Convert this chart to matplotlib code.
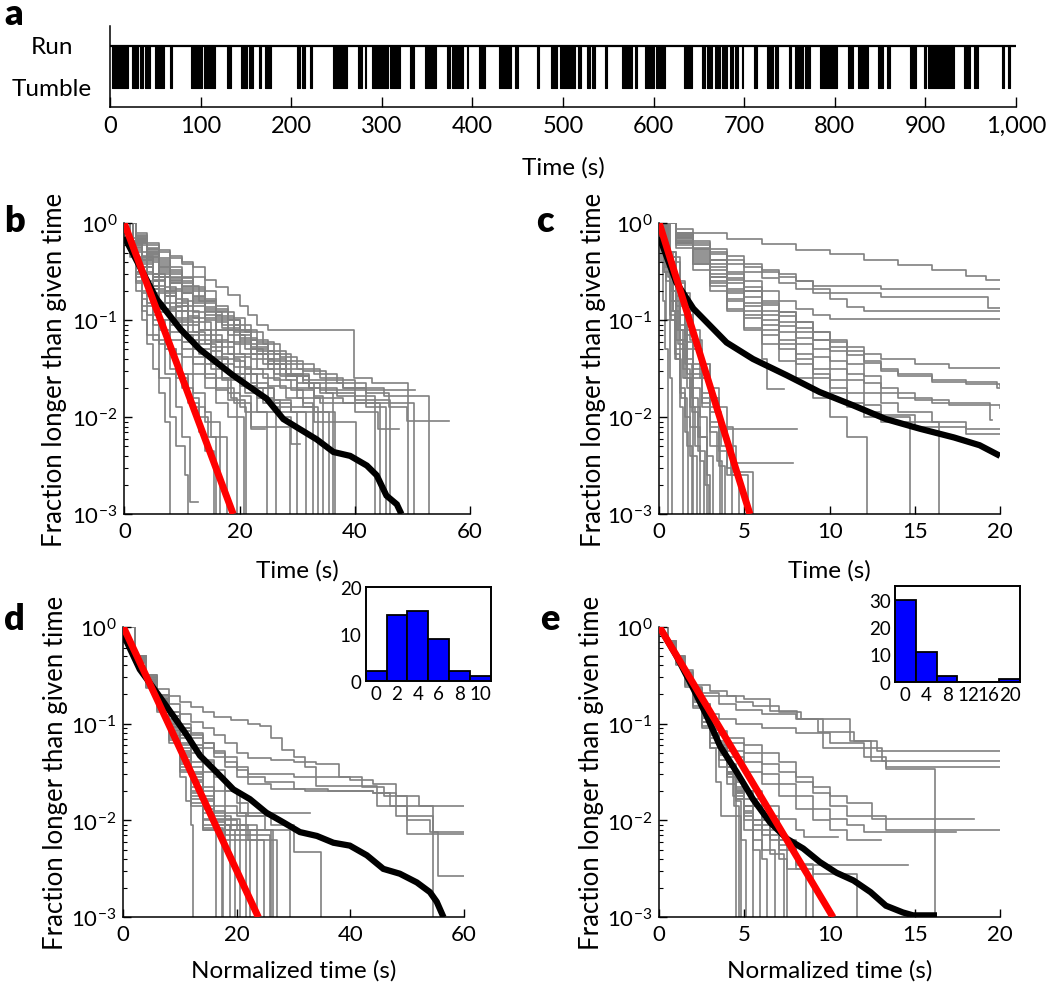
import matplotlib
matplotlib.use("Agg")
import matplotlib.pyplot as plt
import matplotlib.transforms as mtransforms
from matplotlib.ticker import LogLocator, NullFormatter
import numpy as np

plt.rcParams['font.family'] = ['Lato', 'DejaVu Sans']
plt.rcParams['mathtext.fontset'] = 'custom'
plt.rcParams['mathtext.rm'] = 'Lato'
plt.rcParams['mathtext.it'] = 'Lato:italic'
plt.rcParams['mathtext.bf'] = 'Lato:bold'

GRAY = '#808080'
RED = '#ff0000'
BLUE = '#0000ff'

# ---- panel a: run / tumble record (tumble bursts, start and end in s) ----
tumble_start = [2, 24, 33, 39, 50, 66, 89, 104, 129, 145, 153, 164, 171, 206, 212, 221,
                246, 274, 281, 289, 309, 331, 348, 372, 377, 394, 407, 429, 447, 471,
                487, 497, 517, 526, 532, 546, 565, 579, 590, 603, 633, 653, 659, 668,
                675, 684, 690, 697, 711, 725, 734, 749, 756, 762, 767, 784, 815, 826,
                848, 857, 883, 898, 903, 942, 953, 984, 991]
tumble_end = [20, 31, 36, 44, 60, 68, 101, 116, 134, 151, 158, 167, 178, 210, 215, 223,
              261, 278, 283, 307, 320, 335, 360, 375, 390, 395, 414, 443, 450, 473,
              493, 513, 520, 530, 535, 549, 576, 582, 600, 613, 642, 657, 664, 673,
              681, 688, 693, 699, 714, 732, 737, 752, 760, 765, 773, 802, 820, 837,
              853, 861, 890, 901, 931, 949, 958, 987, 993]

# ---- panel b: raw run-time survival (time s, log10 fraction) ----
b_black_t = [0, 5.6, 9.7, 13.1, 18.9, 24.7, 27.6, 33.4, 36.3, 39.2, 42.1, 43.8, 45.5, 47.3, 48.1]
b_black_L = [-0.14, -0.78, -1.09, -1.30, -1.57, -1.81, -2.02, -2.23, -2.36, -2.40, -2.50,
             -2.60, -2.81, -2.90, -3.0]
b_red_t = [0, 18.9]
b_red_f = [1.0, 1e-3]
b_gray = [
    [(0, 0), (2, -0.12), (4, -0.22), (6, -0.3), (8, -0.36), (10, -0.4), (12, -0.45), (14, -0.58),
     (16, -0.66), (18, -0.74), (20, -0.85), (21.5, -0.95), (23, -1.05), (25, -1.1), (39.8, -1.6),
     (43, -1.65), (49.2, -1.68), (49.2, -3.5)],
    [(0, 0), (2, -0.15), (4, -0.28), (6, -0.4), (8, -0.5), (10, -0.6), (12, -0.7), (14, -0.8),
     (16, -0.9), (18, -1.0), (20, -1.1), (23, -1.22), (26, -1.35), (29, -1.45), (33, -1.55),
     (37, -1.65), (42, -1.75), (46, -1.9), (49, -2.04), (56.3, -2.04)],
    [(0, 0), (2, -0.18), (4, -0.32), (6, -0.45), (8, -0.55), (10, -0.65), (13, -0.8), (16, -0.92),
     (19, -1.05), (22, -1.2), (25, -1.32), (28, -1.42), (31, -1.52), (35, -1.62), (40, -1.72),
     (45, -1.78), (52.8, -3.5)],
    [(0, 0), (2, -0.2), (4, -0.36), (6, -0.5), (8, -0.62), (10, -0.72), (12, -0.82), (14, -0.95),
     (17, -1.08), (20, -1.2), (23, -1.35), (27, -1.5), (31, -1.62), (35, -1.75), (40, -1.95),
     (44, -2.12), (47.6, -2.12)],
    [(0, 0), (2, -0.22), (4, -0.4), (6, -0.55), (8, -0.68), (10, -0.8), (12, -0.92), (14, -1.0),
     (16, -1.1), (19, -1.25), (22, -1.4), (26, -1.55), (30, -1.65), (34, -1.72), (40, -1.82),
     (46.1, -3.5)],
    [(0, 0), (1.5, -0.2), (3, -0.38), (5, -0.55), (7, -0.72), (9, -0.85), (11, -0.98), (13, -1.1),
     (15, -1.2), (18, -1.35), (21, -1.5), (24, -1.6), (27, -1.7), (30, -1.8), (34, -1.85),
     (44.4, -3.5)],
    [(0, 0), (1.5, -0.22), (3, -0.42), (5, -0.6), (7, -0.75), (9, -0.9), (11, -1.02), (13, -1.15),
     (15, -1.28), (17, -1.4), (20, -1.55), (23, -1.7), (26, -1.82), (29, -1.95), (33, -2.05),
     (40.3, -3.5)],
    [(0, 0), (1.5, -0.25), (3, -0.45), (5, -0.65), (7, -0.82), (9, -0.98), (11, -1.12), (13, -1.25),
     (15, -1.38), (18, -1.55), (21, -1.7), (24, -1.85), (27, -2.0), (29, -2.28), (30.5, -2.28)],
    [(0, 0), (1.5, -0.28), (3, -0.5), (5, -0.72), (7, -0.9), (9, -1.05), (11, -1.2), (13, -1.35),
     (15, -1.5), (17, -1.62), (20, -1.78), (22, -2.12), (24.4, -2.12)],
    [(0, 0), (1, -0.2), (2, -0.4), (4, -0.68), (6, -0.92), (8, -1.12), (10, -1.3), (12, -1.45),
     (14, -1.6), (16, -1.72), (18, -1.82), (21, -1.95), (26.4, -3.5)],
    [(0, 0), (1, -0.22), (2, -0.45), (4, -0.75), (6, -1.0), (8, -1.2), (10, -1.38), (12, -1.55),
     (14, -1.7), (16, -1.85), (18, -2.0), (20.7, -3.5)],
    [(0, 0), (1, -0.25), (2, -0.5), (4, -0.82), (6, -1.1), (8, -1.35), (10, -1.55), (12, -1.75),
     (14, -1.95), (15, -2.2), (17.8, -3.5)],
    [(0, 0), (1, -0.3), (2, -0.6), (3, -0.85), (5, -1.2), (7, -1.55), (9, -1.9), (10, -2.2),
     (11.4, -2.88), (12.8, -2.88)],
    [(0, 0), (1, -0.35), (2, -0.7), (3, -1.0), (4, -1.25), (5, -1.5), (6, -1.75), (7, -2.05),
     (7.9, -3.5)],
    [(0, 0), (1, -0.28), (2, -0.52), (3, -0.72), (5, -1.05), (7, -1.3), (9, -1.55), (11, -1.8),
     (13, -2.0), (14.5, -2.2), (16, -3.5)],
    [(0, 0), (2, -0.18), (4, -0.35), (6, -0.52), (8, -0.62), (10, -0.72), (12, -0.85), (14, -0.98),
     (16, -1.1), (18, -1.22), (20, -1.35), (23, -1.5), (26, -1.62), (29, -1.72), (31, -1.85),
     (32.8, -3.5)],
    [(0, 0), (2, -0.2), (4, -0.38), (6, -0.55), (8, -0.7), (10, -0.85), (12, -0.98), (14, -1.1),
     (16, -1.22), (19, -1.38), (22, -1.55), (25, -1.68), (28, -1.8), (31, -1.9), (33.7, -3.5)],
    [(0, 0), (1.5, -0.2), (3, -0.38), (5, -0.58), (7, -0.75), (9, -0.9), (11, -1.05), (13, -1.2),
     (15, -1.32), (17, -1.45), (19, -1.6), (21, -1.75), (23, -1.95), (24.7, -3.5)],
    [(0, 0), (1.5, -0.24), (3, -0.45), (5, -0.68), (7, -0.88), (9, -1.02), (11, -1.15), (13, -1.3),
     (15, -1.45), (17, -1.6), (18.5, -1.8), (19.5, -3.5)],
    [(0, 0), (2, -0.16), (4, -0.3), (6, -0.42), (8, -0.52), (10, -0.62), (12, -0.75), (14, -0.88),
     (16, -1.0), (19, -1.12), (22, -1.25), (25, -1.4), (28, -1.55), (31, -1.65), (33, -1.78),
     (34.5, -3.5)],
    [(0, 0), (2, -0.19), (4, -0.34), (6, -0.48), (8, -0.6), (10, -0.7), (12, -0.8), (14, -0.92),
     (17, -1.05), (20, -1.18), (23, -1.32), (26, -1.45), (29, -1.58), (32, -1.7), (34, -1.75),
     (36.3, -3.5)],
    [(0, 0), (1, -0.18), (2, -0.35), (4, -0.6), (6, -0.82), (8, -1.0), (10, -1.15), (12, -1.3),
     (14, -1.45), (16, -1.6), (18, -1.75), (20, -1.9), (21.2, -3.5)],
    [(0, 0), (2, -0.14), (4, -0.26), (6, -0.38), (8, -0.48), (10, -0.56), (12, -0.66), (14, -0.78),
     (16, -0.88), (18, -0.98), (21, -1.12), (24, -1.25), (27, -1.38), (30, -1.5), (34, -1.6),
     (38, -1.7), (42, -1.9), (45.5, -3.5)],
    [(0, 0), (1, -0.3), (2, -0.55), (3, -0.78), (4, -0.95), (6, -1.25), (8, -1.5), (10, -1.7),
     (12, -1.9), (14, -2.05), (16.6, -3.5)],
    [(0, 0), (1, -0.2), (2, -0.38), (4, -0.65), (6, -0.88), (8, -1.05), (10, -1.22), (12, -1.38),
     (14, -1.55), (16, -1.7), (19, -1.85), (22, -2.1), (28.8, -3.5)],
    [(0, 0), (2, -0.17), (4, -0.32), (6, -0.46), (8, -0.58), (10, -0.68), (12, -0.78), (14, -0.9),
     (16, -1.02), (18, -1.15), (21, -1.3), (24, -1.45), (27, -1.58), (30, -1.7), (33, -1.8),
     (38, -1.85), (50.2, -3.5)],
    [(0, 0), (2, -0.1), (4, -0.2), (6, -0.28), (8, -0.34), (10, -0.42), (12, -0.55), (14, -0.7),
     (16, -0.85), (18, -1.0), (20, -1.15), (22, -1.3), (25, -1.45), (28, -1.58), (32, -1.7),
     (37, -1.78), (43.5, -3.5)],
    [(0, 0), (2, -0.13), (4, -0.25), (6, -0.36), (8, -0.45), (10, -0.55), (12, -0.68), (14, -0.82),
     (16, -0.96), (19, -1.1), (22, -1.28), (25, -1.42), (28, -1.55), (32, -1.65), (38, -1.7),
     (45, -1.72), (50.5, -1.72)],
    [(0, 0), (1.5, -0.18), (3, -0.34), (5, -0.52), (7, -0.66), (9, -0.78), (11, -0.9), (13, -1.02),
     (15, -1.15), (17, -1.28), (19, -1.42), (21, -1.56), (23, -1.7), (26, -1.85), (29, -1.95),
     (31.5, -3.5)],
    [(0, 0), (1.5, -0.2), (3, -0.36), (5, -0.55), (7, -0.7), (9, -0.82), (11, -0.96), (13, -1.1),
     (15, -1.22), (17, -1.35), (19, -1.48), (22, -1.65), (25, -1.82), (27, -1.95), (29.9, -3.5)],
    [(0, 0), (1, -0.15), (2, -0.3), (4, -0.52), (6, -0.7), (8, -0.86), (10, -1.0), (12, -1.12),
     (14, -1.25), (16, -1.4), (18, -1.55), (20, -1.68), (23, -1.8), (26, -1.9), (33, -1.95),
     (36.5, -3.5)],
    [(0, 0), (1, -0.26), (2, -0.5), (3, -0.7), (5, -1.0), (7, -1.3), (9, -1.6), (11, -1.85),
     (13, -2.15), (14, -2.35), (15.5, -3.5)],
    [(0, 0), (1, -0.32), (2, -0.62), (3, -0.9), (4, -1.15), (6, -1.6), (8, -2.0), (9, -2.3),
     (10.5, -2.6), (11, -3.5)],
    [(0, 0), (2, -0.16), (4, -0.3), (6, -0.44), (8, -0.56), (10, -0.66), (12, -0.76), (14, -0.86),
     (16, -0.98), (18, -1.1), (20, -1.22), (22, -1.35), (25, -1.5), (28, -1.62), (30, -1.72),
     (33, -1.95), (35.5, -3.5)],
]

# ---- panel c: raw tumble-time survival ----
c_black_t = [0, 1.0, 2.0, 2.78, 3.95, 5.5, 7.5, 9.4, 11.4, 13.3, 15.3, 17.3, 18.8, 20.0]
c_black_L = [-0.14, -0.61, -0.88, -1.02, -1.23, -1.40, -1.57, -1.74, -1.88, -2.02, -2.12,
             -2.21, -2.29, -2.40]
c_red_t = [0, 5.32]
c_red_f = [1.0, 1e-3]
c_gray = [
    [(0, 0), (1, -0.06), (2, -0.1), (4, -0.16), (6, -0.21), (8, -0.27), (10, -0.32), (12, -0.38),
     (14, -0.43), (16, -0.48), (18, -0.54), (19.2, -0.58), (20, -0.58)],
    [(0, 0), (1, -0.1), (2, -0.2), (3, -0.3), (4, -0.38), (5, -0.45), (6, -0.5), (7, -0.55),
     (8, -0.6), (9, -0.65), (13, -0.68), (20, -0.68)],
    [(0, 0), (1, -0.12), (2, -0.22), (3, -0.32), (4, -0.42), (5, -0.5), (6, -0.56), (7, -0.62),
     (8, -0.68), (9, -0.72), (13, -0.76), (19.3, -0.87), (20, -0.87)],
    [(0, 0), (1, -0.1), (2, -0.18), (3, -0.26), (4, -0.34), (5, -0.42), (6, -0.48), (7, -0.52),
     (8, -0.6), (9, -0.68), (10, -0.78), (11, -0.86), (12, -0.9), (20, -0.9)],
    [(0, 0), (1, -0.14), (2, -0.26), (3, -0.38), (4, -0.5), (5, -0.6), (6, -0.7), (7, -0.8),
     (8, -0.88), (9, -0.95), (10, -0.99), (20, -0.99)],
    [(0, 0), (1, -0.15), (2, -0.3), (3, -0.45), (4, -0.58), (5, -0.7), (6, -0.82), (7, -0.92),
     (8, -1.02), (9, -1.12), (10, -1.2), (11, -1.28), (12, -1.35), (13, -1.4), (15, -1.45),
     (17, -1.49), (20, -1.49)],
    [(0, 0), (1, -0.16), (2, -0.32), (3, -0.48), (4, -0.62), (5, -0.76), (6, -0.9), (7, -1.02),
     (8, -1.12), (9, -1.2), (10, -1.28), (11, -1.36), (12, -1.44), (13, -1.52), (14, -1.58),
     (16, -1.64), (19.8, -1.7), (20, -1.7)],
    [(0, 0), (1, -0.18), (2, -0.34), (3, -0.52), (4, -0.68), (5, -0.82), (6, -0.95), (7, -1.06),
     (8, -1.18), (9, -1.3), (10, -1.42), (11, -1.55), (12, -1.65), (13, -1.75), (15, -1.82),
     (17, -1.88), (20, -1.91)],
    [(0, 0), (1, -0.2), (2, -0.38), (3, -0.55), (4, -0.7), (5, -0.85), (6, -1.0), (7, -1.12),
     (8, -1.25), (9, -1.38), (10, -1.5), (11, -1.62), (12, -1.75), (13, -1.85), (14, -1.95),
     (16, -2.05), (18, -2.12), (20, -2.12)],
    [(0, 0), (1, -0.18), (2, -0.36), (3, -0.55), (4, -0.72), (5, -0.9), (6, -1.05), (7, -1.2),
     (8, -1.35), (9, -1.5), (10, -1.62), (11, -1.75), (12, -1.88), (13, -1.98), (15, -2.1),
     (18, -2.17), (20, -2.17)],
    [(0, 0), (1, -0.14), (2, -0.28), (3, -0.42), (4, -0.56), (5, -0.7), (6, -0.84), (7, -0.96),
     (8, -1.08), (9, -1.2), (10, -1.32), (11, -1.45), (12, -1.58), (13, -1.7), (14, -1.8),
     (16, -1.85), (19.4, -2.03), (19.5, -2.03)],
    [(0, 0), (1, -0.2), (2, -0.4), (3, -0.6), (4, -0.78), (5, -0.95), (6, -1.1), (7, -1.25),
     (8, -1.4), (9, -1.55), (10, -1.7), (11, -1.85), (12, -1.95), (13, -2.05), (16.4, -3.5)],
    [(0, 0), (1, -0.22), (2, -0.42), (3, -0.62), (4, -0.8), (5, -0.98), (6, -1.15), (7, -1.3),
     (8, -1.45), (9, -1.6), (10, -1.75), (11, -1.9), (12, -2.0), (14.7, -3.5)],
    [(0, 0), (1, -0.25), (2, -0.48), (3, -0.7), (4, -0.9), (5, -1.08), (6, -1.25), (7, -1.42),
     (8, -1.6), (9, -1.8), (10, -2.0), (11, -2.2), (12.2, -3.5)],
    [(0, 0), (0.5, -0.3), (1, -0.6), (1.5, -0.9), (2, -1.2), (2.5, -1.45), (3, -1.7), (3.5, -1.9),
     (4, -2.12), (8.06, -2.12)],
    [(0, 0), (0.5, -0.35), (1, -0.7), (1.5, -1.0), (2, -1.3), (2.5, -1.55), (3, -1.8), (3.5, -2.1),
     (4, -2.3), (4.5, -2.47), (7.87, -2.47)],
    [(0, 0), (1, -0.2), (2, -0.42), (3, -0.65), (4, -0.88), (5, -1.1), (6, -1.4), (6.3, -1.71),
     (7.3, -1.71)],
    [(0, 0), (1, -0.12), (2, -0.25), (3, -0.38), (4, -0.52), (5, -0.66), (6, -0.8), (7, -0.92),
     (8, -1.02), (9, -1.12), (10, -1.22), (11, -1.32), (12, -1.42), (13, -1.5), (14, -1.56),
     (16, -1.62), (18, -1.66), (20, -1.68)],
    [(0, 0), (0.2, -0.5), (0.4, -1.0), (0.6, -1.6), (0.72, -3.5)],
    [(0, 0), (0.3, -0.5), (0.6, -1.0), (0.9, -1.4), (1.2, -1.9), (1.41, -3.5)],
    [(0, 0), (0.3, -0.4), (0.6, -0.8), (1.0, -1.2), (1.4, -1.6), (1.8, -2.1), (2.0, -3.5)],
    [(0, 0), (0.3, -0.35), (0.6, -0.7), (1.0, -1.1), (1.4, -1.5), (1.8, -1.9), (2.1, -2.3),
     (2.39, -3.5)],
    [(0, 0), (0.3, -0.3), (0.7, -0.7), (1.1, -1.1), (1.5, -1.45), (1.9, -1.8), (2.3, -2.2),
     (2.78, -3.5)],
    [(0, 0), (0.4, -0.35), (0.8, -0.7), (1.2, -1.05), (1.6, -1.4), (2.0, -1.7), (2.4, -2.0),
     (2.8, -2.4), (3.17, -3.5)],
    [(0, 0), (0.4, -0.3), (0.8, -0.62), (1.2, -0.95), (1.6, -1.3), (2.0, -1.6), (2.5, -1.9),
     (3.0, -2.3), (3.56, -3.5)],
    [(0, 0), (0.5, -0.35), (1.0, -0.75), (1.5, -1.1), (2.0, -1.45), (2.5, -1.75), (3.0, -2.05),
     (3.5, -2.5), (3.85, -3.5)],
    [(0, 0), (0.5, -0.3), (1.0, -0.62), (1.5, -0.95), (2.0, -1.3), (2.5, -1.6), (3.0, -1.9),
     (3.5, -2.1), (4.0, -2.52), (4.25, -3.5)],
    [(0, 0), (0.5, -0.4), (1.0, -0.8), (1.5, -1.15), (2.0, -1.5), (2.5, -1.8), (3.0, -2.1),
     (3.5, -2.35), (4.2, -2.6), (4.7, -3.5)],
    [(0, 0), (0.6, -0.35), (1.2, -0.72), (1.8, -1.1), (2.4, -1.45), (3.0, -1.8), (3.5, -2.1),
     (4.3, -2.57), (5.5, -3.5)],
    [(0, 0), (0.2, -0.3), (0.4, -0.6), (0.7, -1.0), (1.0, -1.4), (1.3, -1.8), (1.6, -2.3),
     (1.9, -3.5)],
    [(0, 0), (0.3, -0.45), (0.6, -0.9), (0.9, -1.3), (1.2, -1.7), (1.5, -2.0), (1.8, -2.4),
     (2.2, -3.5)],
    [(0, 0), (0.4, -0.45), (0.8, -0.9), (1.2, -1.3), (1.6, -1.7), (2.0, -2.1), (2.4, -2.45),
     (2.6, -3.5)],
    [(0, 0), (0.4, -0.4), (0.8, -0.8), (1.2, -1.2), (1.6, -1.55), (2.0, -1.9), (2.4, -2.2),
     (2.8, -2.6), (3.0, -3.5)],
    [(0, 0), (0.2, -0.25), (0.5, -0.55), (0.8, -0.9), (1.1, -1.25), (1.5, -1.6), (1.9, -1.95),
     (2.3, -2.35), (2.7, -2.7), (2.9, -3.5)],
    [(0, 0), (0.1, -0.4), (0.2, -0.8), (0.35, -1.3), (0.5, -3.5)],
    [(0, 0), (0.5, -0.42), (1.0, -0.85), (1.5, -1.22), (2.0, -1.55), (2.5, -1.85), (3.0, -2.15),
     (3.4, -2.45), (3.7, -3.5)],
    [(0, 0), (0.6, -0.4), (1.2, -0.8), (1.8, -1.2), (2.4, -1.6), (3.0, -1.95), (3.6, -2.3),
     (4.0, -2.6), (5.2, -3.5)],
    [(0, 0), (0.3, -0.5), (0.6, -0.95), (0.9, -1.35), (1.2, -1.75), (1.5, -2.15), (1.7, -3.5)],
]

# ---- panel d: run times normalised ----
d_black_t = [0, 2.9, 5.9, 8.8, 11.2, 13.5, 16.4, 19.4, 22.3, 25.2, 28.2, 31.1, 34.1, 37.0,
             39.9, 42.9, 45.8, 48.7, 51.7, 54.0, 55.2, 56.4]
d_black_L = [-0.08, -0.44, -0.68, -0.92, -1.12, -1.33, -1.50, -1.68, -1.78, -1.92, -2.02,
             -2.12, -2.16, -2.23, -2.26, -2.36, -2.50, -2.55, -2.64, -2.74, -2.84, -3.0]
d_red_t = [0, 23.8]
d_red_f = [1.0, 1e-3]
d_gray = [
    [(0, 0), (2, -0.3), (4, -0.5), (6, -0.64), (8, -0.72), (10, -0.78), (12, -0.83), (14, -0.88),
     (16, -0.93), (19, -0.96), (22, -1.0), (24, -1.02), (26, -1.15), (28, -1.27), (30, -1.35),
     (32, -1.45), (34, -1.64), (44.6, -1.85), (60, -1.85)],
    [(0, 0), (2, -0.32), (4, -0.55), (6, -0.7), (8, -0.8), (10, -0.9), (12, -0.98), (14, -1.05),
     (16, -1.12), (18, -1.2), (20, -1.3), (22, -1.36), (26, -1.38), (30, -1.4), (34, -1.42),
     (38, -1.55), (42, -1.65), (46, -1.75), (50, -2.0), (54, -2.12), (60, -2.12)],
    [(0, 0), (2, -0.33), (4, -0.58), (6, -0.75), (8, -0.88), (10, -1.0), (12, -1.1), (14, -1.2),
     (16, -1.28), (18, -1.35), (20, -1.45), (22, -1.55), (25, -1.6), (30, -1.68), (36, -1.7),
     (44, -1.72), (48, -1.95), (54.6, -2.12), (55.5, -2.57), (60, -2.57)],
    [(0, 0), (2, -0.34), (4, -0.6), (6, -0.78), (8, -0.92), (10, -1.05), (12, -1.15), (14, -1.25),
     (16, -1.35), (18, -1.45), (20, -1.55), (22, -1.62), (26, -1.68), (32, -1.7), (44, -1.72),
     (47, -1.85), (50, -2.14), (60, -2.14)],
    [(0, 0), (2, -0.35), (4, -0.62), (6, -0.82), (8, -1.0), (10, -1.12), (12, -1.25), (14, -1.38),
     (16, -1.48), (18, -1.7), (20.6, -1.92), (32.9, -1.92)],
    [(0, 0), (2, -0.3), (4, -0.52), (6, -0.7), (8, -0.88), (10, -1.05), (12, -1.22), (14, -1.4),
     (16, -1.55), (18, -1.7), (20, -1.82), (22, -1.95), (26, -2.05), (30, -2.33), (34.9, -3.5)],
    [(0, 0), (2, -0.3), (4, -0.5), (6, -0.7), (8, -0.88), (10, -1.08), (12, -1.3), (14, -1.5),
     (16, -1.7), (18, -1.85), (20, -1.95), (25, -2.1), (29.4, -3.5)],
    [(0, 0), (2, -0.3), (4, -0.52), (6, -0.72), (8, -0.92), (10, -1.15), (12, -1.4), (14, -1.65),
     (16, -1.85), (18, -2.0), (20, -2.1), (22, -2.2), (27, -3.5)],
    [(0, 0), (2, -0.3), (4, -0.53), (6, -0.74), (8, -0.96), (10, -1.2), (12, -1.45), (14, -1.7),
     (16, -1.9), (18, -2.05), (22, -2.1), (26.4, -3.5)],
    [(0, 0), (2, -0.31), (4, -0.54), (6, -0.75), (8, -0.98), (10, -1.22), (12, -1.5), (14, -1.75),
     (16, -1.95), (19, -2.1), (26.1, -3.5)],
    [(0, 0), (2, -0.31), (4, -0.55), (6, -0.76), (8, -1.0), (10, -1.25), (12, -1.52), (14, -1.78),
     (16, -2.0), (18, -2.15), (25.8, -3.5)],
    [(0, 0), (2, -0.32), (4, -0.56), (6, -0.77), (8, -1.02), (10, -1.28), (12, -1.55), (14, -1.8),
     (16, -2.02), (18, -2.2), (24.7, -3.5)],
    [(0, 0), (2, -0.32), (4, -0.56), (6, -0.78), (8, -1.04), (10, -1.3), (12, -1.58), (14, -1.85),
     (16, -2.05), (23.5, -3.5)],
    [(0, 0), (2, -0.33), (4, -0.57), (6, -0.79), (8, -1.05), (10, -1.32), (12, -1.6), (14, -1.88),
     (16, -2.1), (22.3, -3.5)],
    [(0, 0), (2, -0.33), (4, -0.58), (6, -0.8), (8, -1.07), (10, -1.35), (12, -1.65), (14, -1.92),
     (21.7, -3.5)],
    [(0, 0), (2, -0.34), (4, -0.58), (6, -0.81), (8, -1.08), (10, -1.38), (12, -1.7), (14, -1.98),
     (20.6, -3.5)],
    [(0, 0), (2, -0.34), (4, -0.59), (6, -0.82), (8, -1.1), (10, -1.4), (12, -1.72), (14, -2.0),
     (16, -2.1), (19.7, -3.5)],
    [(0, 0), (2, -0.35), (4, -0.6), (6, -0.83), (8, -1.12), (10, -1.42), (12, -1.75), (14, -2.05),
     (18.8, -3.5)],
    [(0, 0), (2, -0.35), (4, -0.6), (6, -0.84), (8, -1.13), (10, -1.45), (12, -1.78), (14, -2.08),
     (17.6, -3.5)],
    [(0, 0), (2, -0.36), (4, -0.61), (6, -0.85), (8, -1.15), (10, -1.48), (12, -1.82), (14, -2.1),
     (17.3, -3.5)],
    [(0, 0), (2, -0.36), (4, -0.62), (6, -0.86), (8, -1.17), (10, -1.5), (12, -1.85), (14, -2.1),
     (16.4, -3.5)],
    [(0, 0), (2, -0.37), (4, -0.63), (6, -0.88), (8, -1.2), (10, -1.55), (11, -1.8), (12, -2.05),
     (12.3, -3.5)],
    [(0, 0), (2, -0.35), (4, -0.6), (6, -0.8), (8, -0.95), (10, -1.05), (12, -1.12), (14, -1.2),
     (16, -1.3), (18, -1.4), (20, -1.48), (22, -1.52), (30, -1.55), (40, -1.58), (44, -1.62),
     (48, -1.75), (52, -1.85), (54.6, -3.5)],
]

# ---- panel e: tumble times normalised ----
e_black_t = [0, 1.0, 2.0, 2.78, 3.56, 4.54, 5.5, 6.5, 7.5, 8.45, 9.43, 10.4, 11.4, 12.4, 13.3,
             14.3, 14.9, 16.3]
e_black_L = [0.0, -0.30, -0.64, -0.92, -1.23, -1.50, -1.78, -2.02, -2.19, -2.29, -2.43, -2.54,
             -2.62, -2.74, -2.88, -2.95, -2.98, -2.98]
e_red_t = [0, 10.2]
e_red_f = [1.0, 1e-3]
e_gray = [
    [(0, 0), (0.5, -0.15), (1, -0.3), (1.5, -0.45), (2, -0.6), (3, -0.66), (4, -0.72), (5, -0.75),
     (6.5, -0.87), (8.1, -0.95), (9.3, -1.09), (11.4, -1.18), (12.8, -1.28), (20, -1.28)],
    [(0, 0), (0.5, -0.16), (1, -0.32), (1.5, -0.48), (2, -0.62), (2.5, -0.68), (3.5, -0.72),
     (4.5, -0.78), (5.5, -0.82), (7, -0.88), (8.3, -0.95), (9.6, -1.25), (13.1, -1.39), (20, -1.39)],
    [(0, 0), (0.5, -0.16), (1, -0.33), (1.5, -0.5), (2, -0.64), (2.5, -0.72), (3.5, -0.8),
     (4.5, -0.86), (6, -0.9), (8, -0.95), (11.2, -1.18), (12.4, -1.39), (13.3, -1.45), (20, -1.45)],
    [(0, 0), (0.5, -0.17), (1, -0.34), (1.5, -0.5), (2, -0.66), (2.5, -0.8), (3, -0.9), (3.5, -0.95),
     (4.5, -1.0), (6, -1.05), (8, -1.1), (10, -1.2), (12, -1.35), (13.3, -1.47), (16.2, -3.5)],
    [(0, 0), (0.5, -0.17), (1, -0.34), (1.5, -0.52), (2, -0.7), (2.5, -0.85), (3, -0.98),
     (3.5, -1.08), (4, -1.15), (5, -1.22), (6, -1.3), (7, -1.4), (8, -1.55), (9, -1.65), (10, -1.75),
     (11, -1.82), (12.5, -1.98), (18.5, -1.98)],
    [(0, 0), (0.5, -0.17), (1, -0.35), (1.5, -0.53), (2, -0.72), (2.5, -0.88), (3, -1.02),
     (3.5, -1.12), (4, -1.2), (5, -1.3), (6, -1.42), (7, -1.5), (8, -1.6), (9, -1.72), (10, -1.85),
     (11, -1.95), (13.3, -2.1), (20, -2.1)],
    [(0, 0), (0.5, -0.18), (1, -0.36), (1.5, -0.55), (2, -0.74), (2.5, -0.9), (3, -1.05),
     (3.5, -1.18), (4, -1.28), (5, -1.4), (6, -1.52), (7, -1.62), (8, -1.75), (9, -1.88), (10, -1.98),
     (11, -2.05), (12, -2.12), (17.4, -2.12)],
    [(0, 0), (0.5, -0.18), (1, -0.36), (1.5, -0.56), (2, -0.76), (2.5, -0.94), (3, -1.1),
     (3.5, -1.22), (4, -1.35), (5, -1.5), (6, -1.62), (7, -1.75), (8, -1.88), (9, -2.0), (10, -2.1),
     (11, -2.2), (13, -2.2)],
    [(0, 0), (0.5, -0.19), (1, -0.38), (1.5, -0.58), (2, -0.78), (2.5, -0.98), (3, -1.15),
     (3.5, -1.3), (4, -1.45), (4.5, -1.58), (5, -1.7), (6, -1.85), (7, -1.98), (8, -2.1),
     (8.5, -2.17), (10.5, -2.17)],
    [(0, 0), (0.5, -0.19), (1, -0.38), (1.5, -0.6), (2, -0.82), (2.5, -1.02), (3, -1.2),
     (3.5, -1.38), (4, -1.55), (4.5, -1.7), (5, -1.85), (5.5, -2.0), (6, -2.15), (7, -2.3),
     (8, -2.46), (14.6, -2.46)],
    [(0, 0), (0.5, -0.2), (1, -0.4), (1.5, -0.62), (2, -0.84), (2.5, -1.05), (3, -1.25),
     (3.5, -1.45), (4, -1.62), (4.5, -1.78), (5, -1.92), (5.5, -2.05), (6.5, -2.2), (7.5, -2.5),
     (9, -2.55), (11.6, -3.5)],
    [(0, 0), (0.5, -0.15), (1, -0.3), (1.5, -0.47), (2, -0.63), (2.5, -0.8), (3, -0.98),
     (3.5, -1.2), (4, -1.45), (4.3, -1.75), (4.5, -3.5)],
    [(0, 0), (0.5, -0.15), (1, -0.31), (1.5, -0.48), (2, -0.65), (2.5, -0.82), (3, -1.0),
     (3.5, -1.22), (4, -1.5), (4.4, -1.85), (4.7, -3.5)],
    [(0, 0), (0.5, -0.15), (1, -0.31), (1.5, -0.48), (2, -0.66), (2.5, -0.84), (3, -1.02),
     (3.5, -1.25), (4, -1.5), (4.5, -1.8), (4.8, -2.2), (5.1, -3.5)],
    [(0, 0), (0.5, -0.16), (1, -0.32), (1.5, -0.5), (2, -0.68), (2.5, -0.86), (3, -1.05),
     (3.5, -1.28), (4, -1.52), (4.5, -1.78), (5, -2.1), (5.5, -3.5)],
    [(0, 0), (0.5, -0.16), (1, -0.32), (1.5, -0.5), (2, -0.68), (2.5, -0.86), (3, -1.05),
     (3.5, -1.25), (4, -1.5), (4.5, -1.75), (5, -2.0), (5.5, -2.3), (5.9, -3.5)],
    [(0, 0), (0.5, -0.16), (1, -0.33), (1.5, -0.51), (2, -0.7), (2.5, -0.88), (3, -1.07),
     (3.5, -1.28), (4, -1.5), (4.5, -1.72), (5, -1.95), (5.5, -2.2), (6, -2.4), (6.3, -3.5)],
    [(0, 0), (0.5, -0.16), (1, -0.33), (1.5, -0.5), (2, -0.68), (2.5, -0.86), (3, -1.04),
     (3.5, -1.24), (4, -1.45), (4.5, -1.68), (5, -1.9), (5.5, -2.1), (6, -2.3), (6.8, -3.5)],
    [(0, 0), (0.5, -0.17), (1, -0.34), (1.5, -0.52), (2, -0.7), (2.5, -0.9), (3, -1.1),
     (3.5, -1.3), (4, -1.5), (4.5, -1.7), (5.5, -2.0), (6.5, -2.35), (7.3, -3.5)],
    [(0, 0), (0.5, -0.17), (1, -0.34), (1.5, -0.52), (2, -0.7), (2.5, -0.88), (3, -1.06),
     (3.5, -1.26), (4, -1.45), (4.5, -1.65), (5, -1.85), (6, -2.1), (7, -2.4), (7.5, -3.5)],
    [(0, 0), (0.5, -0.17), (1, -0.35), (1.5, -0.53), (2, -0.72), (2.5, -0.92), (3, -1.12),
     (3.5, -1.32), (4, -1.52), (4.5, -1.72), (5, -1.85), (6, -2.0), (7, -2.25), (8, -2.5),
     (8.6, -3.5)],
    [(0, 0), (0.5, -0.16), (1, -0.33), (1.5, -0.5), (2, -0.68), (2.5, -0.87), (3, -1.06),
     (3.5, -1.25), (4, -1.42), (4.5, -1.6), (5, -1.78), (6, -1.95), (7, -2.2), (8, -2.45),
     (9.0, -3.5)],
    [(0, 0), (0.5, -0.17), (1, -0.35), (1.5, -0.55), (2, -0.75), (2.5, -0.98), (3, -1.25),
     (3.3, -1.6), (3.6, -1.95), (4.8, -3.5)],
]

# ---- insets: histograms ----
d_hist_x = [0, 2, 4, 6, 8, 10]
d_hist_n = [2, 14, 15, 9, 2, 1]
e_hist_x = [0, 4, 8, 12, 16, 20]
e_hist_n = [30, 11, 2, 0, 0, 1]

fig = plt.figure(figsize=(10.5, 9.87), dpi=100)

TICK_FS = 16
XLABEL_FS = 17.5
YLABEL_FS = 18.5


def survival_panel(rect, gray, black_t, black_L, red_t, red_f, xmax, xticks, xlabel, ylab_x, xlab_y):
    ax = fig.add_axes(rect)
    for curve in gray:
        t, L = zip(*curve)
        ax.plot(t, 10 ** np.array(L), drawstyle='steps-post', color=GRAY, lw=1.2, zorder=1)
    ax.plot(black_t, 10 ** np.array(black_L), color='k', lw=4.5, zorder=3,
            solid_capstyle='butt', solid_joinstyle='miter')
    ax.plot(red_t, red_f, color=RED, lw=5, zorder=4, solid_capstyle='butt')
    ax.set_yscale('log')
    ax.set_xlim(0, xmax)
    ax.set_ylim(1e-3, 1)
    ax.set_xticks(xticks)
    ax.set_yticks([1e-3, 1e-2, 1e-1, 1])
    ax.set_yticklabels([r'$\mathregular{10^{-3}}$', r'$\mathregular{10^{-2}}$',
                        r'$\mathregular{10^{-1}}$', r'$\mathregular{10^{0}}$'])
    ax.yaxis.set_minor_locator(LogLocator(base=10, subs=np.arange(2, 10)))
    ax.yaxis.set_minor_formatter(NullFormatter())
    ax.spines['top'].set_visible(False)
    ax.spines['right'].set_visible(False)
    for s in ('left', 'bottom'):
        ax.spines[s].set_linewidth(1.1)
    ax.tick_params(which='major', direction='in', length=6, width=1.0,
                   labelsize=TICK_FS, pad=5)
    ax.tick_params(which='minor', direction='in', length=3, width=0.8)
    ax.set_xlabel(xlabel, fontsize=XLABEL_FS)
    ax.set_ylabel('Fraction longer than given time', fontsize=YLABEL_FS)
    ax.yaxis.set_label_coords(ylab_x, 0.5)
    ax.xaxis.set_label_coords(0.5, xlab_y)
    ax.xaxis.label.set_verticalalignment('top')
    return ax


def hist_inset(rect, xs, ns, width, xlim, ylim, yticks):
    ax = fig.add_axes(rect)
    ax.bar(xs, ns, width=width, color=BLUE, edgecolor='k', linewidth=1.3)
    ax.set_xlim(*xlim)
    ax.set_ylim(*ylim)
    ax.set_xticks(xs)
    ax.set_yticks(yticks)
    for s in ax.spines.values():
        s.set_linewidth(1.4)
    ax.tick_params(direction='in', length=0, labelsize=13.5, pad=3)
    return ax


# panel a
axa = fig.add_axes([0.1048, 0.8906, 0.8629, 0.0821])
axa.hlines(1, 0, 1000, color='k', lw=1.6)
widths = [e - s for s, e in zip(tumble_start, tumble_end)]
axa.broken_barh(list(zip(tumble_start, widths)), (0, 1), facecolor='k', edgecolor='k', lw=0.8)
axa.set_xlim(0, 1000)
axa.set_ylim(-0.45, 1.48)
axa.set_xticks(range(0, 1001, 100))
axa.set_xticklabels([str(v) if v < 1000 else '1,000' for v in range(0, 1001, 100)])
axa.set_yticks([])
axa.spines['top'].set_visible(False)
axa.spines['right'].set_visible(False)
axa.spines['left'].set_linewidth(1.1)
axa.spines['bottom'].set_linewidth(1.1)
axa.tick_params(direction='in', length=7, width=1.0, labelsize=17, pad=6)
axa.set_xlabel('Time (s)', fontsize=XLABEL_FS)
axa.xaxis.set_label_coords(0.5, -0.6)
axa.xaxis.label.set_verticalalignment('top')
trans = mtransforms.blended_transform_factory(axa.transAxes, axa.transData)
axa.text(-0.064, 1, 'Run', transform=trans, ha='center', va='center', fontsize=XLABEL_FS)
axa.text(-0.064, 0, 'Tumble', transform=trans, ha='center', va='center', fontsize=XLABEL_FS)

# panels b - e
survival_panel([0.1184, 0.4782, 0.3292, 0.2945], b_gray, b_black_t, b_black_L, b_red_t, b_red_f,
               60, [0, 20, 40, 60], 'Time (s)', -0.165, -0.155)
survival_panel([0.6279, 0.4782, 0.3245, 0.2945], c_gray, c_black_t, c_black_L, c_red_t, c_red_f,
               20, [0, 5, 10, 15, 20], 'Time (s)', -0.155, -0.155)
survival_panel([0.1174, 0.0696, 0.3245, 0.2944], d_gray, d_black_t, d_black_L, d_red_t, d_red_f,
               60, [0, 20, 40, 60], 'Normalized time (s)', -0.163, -0.143)
survival_panel([0.6279, 0.0696, 0.3245, 0.2944], e_gray, e_black_t, e_black_L, e_red_t, e_red_f,
               20, [0, 5, 10, 15, 20], 'Normalized time (s)', -0.163, -0.143)

hist_inset([0.3483, 0.3093, 0.1190, 0.0946], d_hist_x, d_hist_n, 2, (-1, 11), (0, 20), [0, 10, 20])
hist_inset([0.8524, 0.3083, 0.1190, 0.0967], e_hist_x, e_hist_n, 4, (-2, 22), (0, 35), [0, 10, 20, 30])

# panel letters
for letter, x, y in [('a', 0.004, 0.985), ('b', 0.004, 0.776), ('c', 0.511, 0.776),
                     ('d', 0.004, 0.372), ('e', 0.514, 0.372)]:
    fig.text(x, y, letter, fontsize=26, fontweight='heavy', ha='left', va='center')

fig.savefig('out.png', dpi=100)
